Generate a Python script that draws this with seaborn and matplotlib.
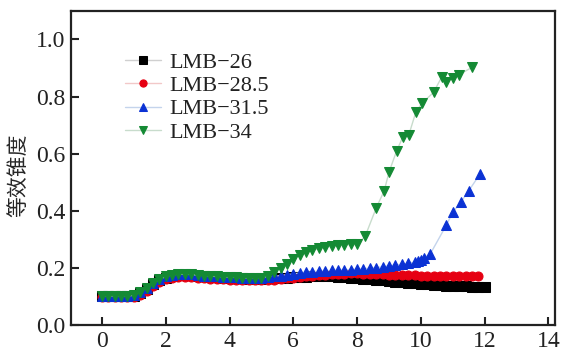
import matplotlib
matplotlib.use("Agg")
import matplotlib.pyplot as plt
import seaborn as sns
import pandas as pd

# shared early part of the curves (0 .. 5.0, step 0.2)
x_base = [0.0, 0.2, 0.4, 0.6, 0.8, 1.0, 1.2, 1.4, 1.6, 1.8, 2.0, 2.2, 2.4, 2.6,
          2.8, 3.0, 3.2, 3.4, 3.6, 3.8, 4.0, 4.2, 4.4, 4.6, 4.8, 5.0]
x_mid = [5.2, 5.4, 5.6, 5.8, 6.0, 6.2, 6.4, 6.6, 6.8, 7.0, 7.2, 7.4, 7.6, 7.8, 8.0]
x_late = [8.2, 8.4, 8.6, 8.8, 9.0, 9.2, 9.4, 9.6, 9.8, 10.0, 10.2, 10.4, 10.6,
          10.8, 11.0, 11.2, 11.4, 11.6, 11.8]

y26 = [0.100, 0.100, 0.100, 0.100, 0.100, 0.102, 0.112, 0.127, 0.142, 0.156, 0.166,
       0.172, 0.175, 0.175, 0.174, 0.172, 0.170, 0.168, 0.167, 0.166, 0.165, 0.164,
       0.163, 0.162, 0.162, 0.162,
       0.163, 0.164, 0.165, 0.166, 0.167, 0.168, 0.169, 0.170, 0.170, 0.170, 0.170,
       0.169, 0.168, 0.166, 0.164,
       0.162, 0.160, 0.158, 0.156, 0.154, 0.152, 0.150, 0.148, 0.146, 0.144, 0.142,
       0.140, 0.139, 0.138, 0.137, 0.136, 0.135, 0.134, 0.134, 0.134]
x26 = x_base + x_mid + x_late + [12.0]

y285 = [0.097, 0.097, 0.097, 0.097, 0.097, 0.099, 0.106, 0.120, 0.136, 0.150, 0.160,
        0.166, 0.168, 0.168, 0.168, 0.166, 0.164, 0.162, 0.161, 0.160, 0.159, 0.158,
        0.157, 0.156, 0.156, 0.156,
        0.157, 0.159, 0.161, 0.163, 0.165, 0.167, 0.170, 0.172, 0.174, 0.176, 0.178,
        0.179, 0.180, 0.181, 0.181,
        0.180, 0.179, 0.178, 0.177, 0.176, 0.175, 0.175, 0.174, 0.174, 0.173, 0.173,
        0.173, 0.172, 0.172, 0.172, 0.172, 0.171, 0.171, 0.171]
x285 = x_base + x_mid + x_late

x315 = x_base + x_mid + [8.2, 8.4, 8.6, 8.8, 9.0, 9.2, 9.4, 9.6, 9.8, 9.9, 10.0,
                         10.1, 10.3, 10.8, 11.0, 11.25, 11.5, 11.85]
y315 = [0.102, 0.102, 0.102, 0.102, 0.102, 0.104, 0.116, 0.131, 0.146, 0.160, 0.170,
        0.176, 0.178, 0.178, 0.177, 0.175, 0.173, 0.171, 0.170, 0.169, 0.168, 0.167,
        0.166, 0.165, 0.165, 0.165,
        0.167, 0.170, 0.173, 0.176, 0.179, 0.182, 0.184, 0.186, 0.188, 0.190, 0.191,
        0.192, 0.193, 0.194, 0.195,
        0.197, 0.199, 0.201, 0.204, 0.207, 0.210, 0.213, 0.216, 0.220, 0.224, 0.228,
        0.234, 0.250, 0.350, 0.395, 0.430, 0.470, 0.528]

x34 = x_base + x_mid + [8.25, 8.6, 8.85, 9.0, 9.24, 9.44, 9.62, 9.84, 10.03, 10.4,
                        10.66, 10.8, 11.0, 11.2, 11.6]
y34 = [0.102, 0.102, 0.102, 0.102, 0.102, 0.104, 0.116, 0.131, 0.146, 0.160, 0.170,
       0.176, 0.178, 0.178, 0.177, 0.175, 0.173, 0.171, 0.170, 0.169, 0.168, 0.167,
       0.166, 0.165, 0.165, 0.166,
       0.172, 0.185, 0.200, 0.215, 0.230, 0.245, 0.255, 0.262, 0.268, 0.272, 0.276,
       0.279, 0.281, 0.282, 0.282,
       0.310, 0.410, 0.470, 0.535, 0.610, 0.660, 0.665, 0.745, 0.776, 0.815, 0.870,
       0.850, 0.864, 0.877, 0.902]

labels = ["LMB\u221226", "LMB\u221228.5", "LMB\u221231.5", "LMB\u221234"]
markers = ["s", "o", "^", "v"]
colors = ["#000000", "#e60012", "#0b32d4", "#148a34"]
line_colors = ["#d0d0d0", "#f2c8c8", "#c4d4ec", "#c8dccc"]
series = [(x26, y26), (x285, y285), (x315, y315), (x34, y34)]

sns.set_style("white")
plt.rcParams["font.family"] = ["Liberation Serif", "Noto Sans CJK SC"]

fig = plt.figure(figsize=(5.61, 3.52), dpi=100)
ax = fig.add_axes([0.1266, 0.0767, 0.8624, 0.8923])

for (xs, ys), lab, m, c, lc in zip(series, labels, markers, colors, line_colors):
    df = pd.DataFrame({"x": xs, "y": ys})
    sns.lineplot(data=df, x="x", y="y", ax=ax, color=lc, linewidth=1.0,
                 marker=m, markersize=6.5, markerfacecolor=c, markeredgecolor=c,
                 label=lab, sort=False)

ax.set_xlim(-0.97, 14.2)
ax.set_ylim(0, 1.1)
ax.set_xticks([0, 2, 4, 6, 8, 10, 12, 14])
ax.set_yticks([0.0, 0.2, 0.4, 0.6, 0.8, 1.0])
ax.set_yticklabels(["0.0", "0.2", "0.4", "0.6", "0.8", "1.0"])
ax.set_xlabel("")
ax.set_ylabel("等效锥度", fontsize=15, family=["Noto Sans CJK SC"])
ax.yaxis.set_label_coords(-0.087, 0.478)
ax.tick_params(axis="both", direction="in", length=6, width=1.5, labelsize=17,
               colors="#222222", pad=4, bottom=True, left=True, top=False, right=False)
for s in ax.spines.values():
    s.set_linewidth(1.6)
    s.set_color("#222222")

leg = ax.legend(loc="upper left", bbox_to_anchor=(0.112, 0.868), frameon=False,
                fontsize=16, handlelength=1.6, labelspacing=0.12, handletextpad=0.4,
                borderpad=0, borderaxespad=0, markerscale=0.8)
for t in leg.get_texts():
    t.set_color("#222222")

fig.savefig("out.png", dpi=100)
